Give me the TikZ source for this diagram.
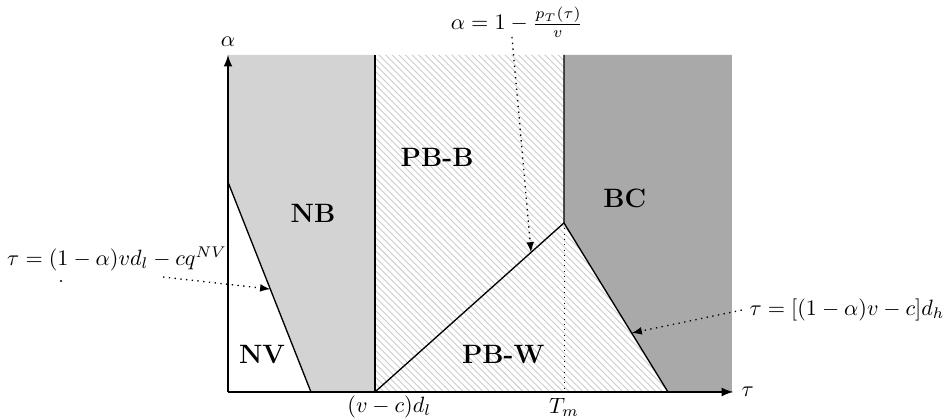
\documentclass[tikz,border=0pt]{standalone}
\usepackage{tikz}
\usetikzlibrary{patterns}

\definecolor{hellgrau}{HTML}{D3D3D3}
\definecolor{dunkelgrau}{HTML}{A9A9A9}

\begin{document}
\begin{tikzpicture}

\useasboundingbox (-3.619,-0.444) rectangle (11.429,6.222);

% 0. Stile
\tikzset{grenze/.style={semithick}}
\tikzset{gebiet/.style={font=\large\bfseries}}
\tikzset{hinweis/.style={dotted, semithick, -latex}}

% 1. Eckpunkte der Gebiete
\coordinate (O) at (0, 0);
\coordinate (ytop) at (0, 5.35);
\coordinate (xend) at (8, 0);
\coordinate (rtop) at (8, 5.35);
\coordinate (nvA) at (0, 3.333);
\coordinate (nvB) at (1.317, 0);
\coordinate (dl) at (2.333, 0);
\coordinate (dltop) at (2.333, 5.35);
\coordinate (K) at (5.333, 2.683);
\coordinate (Tm) at (5.333, 0);
\coordinate (Tmtop) at (5.333, 5.35);
\coordinate (dh) at (6.984, 0);

% 2. Flaechen
\fill[hellgrau] (ytop) -- (dltop) -- (dl) -- (nvB) -- (nvA) -- cycle;
\fill[dunkelgrau] (Tmtop) -- (rtop) -- (xend) -- (dh) -- (K) -- cycle;
\fill[pattern=north west lines, pattern color=gray!40] (dl) -- (dltop) -- (Tmtop) -- (K) -- (dh) -- cycle;

% 3. Grenzlinien
\draw[grenze] (nvA) -- coordinate[pos=0.51] (pNV) (nvB);
\draw[grenze] (dl) -- (dltop);
\draw[grenze] (dl) -- coordinate[pos=0.826] (pPB) (K) -- (Tmtop);
\draw[grenze] (K) -- coordinate[pos=0.651] (pBC) (dh);
\draw[dotted] (K) -- (Tm);

% 4. Achsen
\draw[thick, -latex] (O) -- (ytop) node[above] (alpha) {$\alpha$};
\draw[thick, -latex] (O) -- (8.02, 0) node[right] (tau) {$\tau$};
\node (lbldl) at (2.56, -0.24) {$(v-c)d_l$};
\node (lblTm) at (5.333, -0.24) {$T_m$};

% 5. Gebiete beschriften
\node[gebiet] (NV) at (0.54, 0.587) {NV};
\node[gebiet] (NB) at (1.35, 2.84) {NB};
\node[gebiet] (PBB) at (3.32, 3.73) {PB-B};
\node[gebiet] (BC) at (6.30, 3.08) {BC};
\node[gebiet] (PBW) at (4.37, 0.587) {PB-W};

% 6. Formeln mit Hinweispfeilen
\node (fNV) at (-1.762, 2.11) {$\tau=(1-\alpha)vd_l-cq^{NV}$};
\node (fPB) at (4.587, 5.87) {$\alpha=1-\frac{p_T(\tau)}{v}$};
\node (fBC) at (9.825, 1.30) {$\tau=[(1-\alpha)v-c]d_h$};
\coordinate (sNV) at (-1.03, 1.825);
\coordinate (sPB) at (4.508, 5.635);
\draw[hinweis] (sNV) -- (pNV);
\draw[hinweis] (sPB) -- (pPB);
\draw[hinweis] (fBC.west) -- (pBC);
\fill (-2.651, 1.762) circle (0.5pt);

\end{tikzpicture}
\end{document}
